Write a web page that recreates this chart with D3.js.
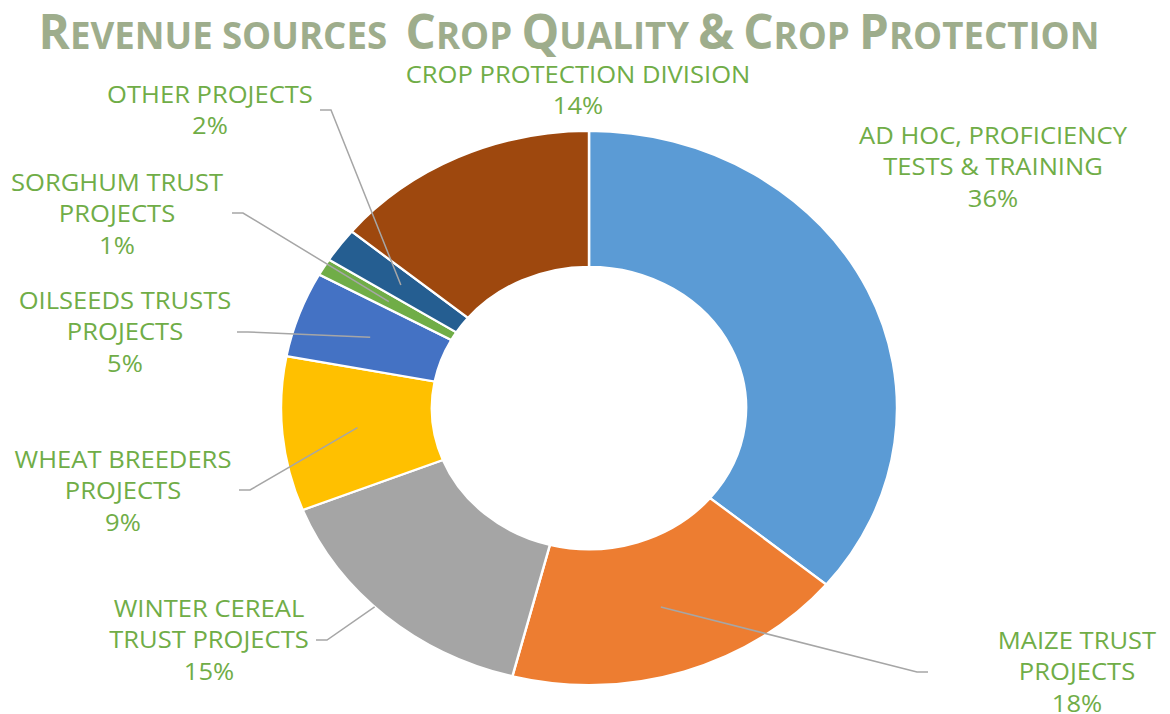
<!DOCTYPE html>
<html>
<head>
<meta charset="utf-8">
<script src="https://cdn.jsdelivr.net/npm/d3@7"></script>
<style>
  body { margin: 0; background: #fff; }
  svg { display: block; }
  .lbl { font-family: "Open Sans", sans-serif; fill: #70AD47; }
  .title { font-family: "Open Sans", sans-serif; font-weight: bold; fill: #9EAD8C; }
</style>
</head>
<body>
<script>
// slice data, clockwise from 12 o'clock
var categories = ["AD HOC, PROFICIENCY TESTS & TRAINING", "MAIZE TRUST PROJECTS",
    "WINTER CEREAL TRUST PROJECTS", "WHEAT BREEDERS PROJECTS", "OILSEEDS TRUSTS PROJECTS",
    "SORGHUM TRUST PROJECTS", "OTHER PROJECTS", "CROP PROTECTION DIVISION"];
var shares = [36, 18, 15, 9, 5, 1, 2, 14];
var colors = ["#5B9BD5", "#ED7D31", "#A5A5A5", "#FFC000", "#4472C4", "#70AD47", "#255E91", "#9E480E"];
// how each label wraps
var labelLines = [
    ["AD HOC, PROFICIENCY", "TESTS & TRAINING"],
    ["MAIZE TRUST", "PROJECTS"],
    ["WINTER CEREAL", "TRUST PROJECTS"],
    ["WHEAT BREEDERS", "PROJECTS"],
    ["OILSEEDS TRUSTS", "PROJECTS"],
    ["SORGHUM TRUST", "PROJECTS"],
    ["OTHER PROJECTS"],
    ["CROP PROTECTION DIVISION"]
];

// label layout (hand placed, as in the original)
var labelPos = [[993, 136], [1077, 641], [209, 609], [123, 460], [125, 301], [117, 183], [210, 95], [578, 75]];
var leaderStart = [null, [928, 672], [316, 640], [239, 490], [237, 332], [232, 213], [320, 110], null];
var leaderClip = [false, false, true, false, false, false, false, false];

window.onload = function(){
    var w = 1170, h = 714;
    var cx = 589, cy = 408, R = 277, sx = 1.112;
    var lineH = 31.5;

    var svg = d3.select("body").append("svg")
        .attr("width", w)
        .attr("height", h);

    // title in small caps
    var title = svg.append("text")
        .attr("class", "title")
        .attr("text-anchor", "middle")
        .attr("transform", "translate(569,49) scale(0.99,1)");
    var words = ["Revenue", "sources", "", "Crop", "Quality", "&", "Crop", "Protection"];
    words.forEach(function(word, i){
        if (i > 0) title.append("tspan").style("font-size", "36px").text("\u00a0");
        if (!word) return;
        var first = word.charAt(0), rest = word.slice(1);
        var bigFirst = first !== first.toLowerCase() || first === "&";
        title.append("tspan")
            .style("font-size", bigFirst ? "48px" : "37px")
            .text(first.toUpperCase());
        if (rest) title.append("tspan").style("font-size", "37px").text(rest.toUpperCase());
    });

    var pie = d3.pie().sort(null).value(function(d){ return d; });
    var arcs = pie(shares);
    var arc = d3.arc().innerRadius(R * 0.51).outerRadius(R);

    var donut = svg.append("g")
        .attr("transform", "translate(" + cx + "," + cy + ") scale(" + sx + ",1)");

    donut.selectAll("path")
        .data(arcs)
        .enter()
        .append("path")
        .attr("d", arc)
        .style("fill", function(d, i){ return colors[i]; })
        .style("stroke", "#fff")
        .style("stroke-width", 2.2);

    // leader lines
    function toScreen(p){ return [cx + sx * p[0], cy + p[1]]; }
    arcs.forEach(function(d, i){
        var s = leaderStart[i];
        if (!s) return;
        var tip = toScreen(arc.centroid(d));
        var dir = tip[0] > s[0] ? 1 : -1;
        var elbow = [s[0] + dir * 11, s[1]];
        if (leaderClip[i]) {
            // stop the line at the outer edge of the ring
            var lo = 0, hi = 1;
            for (var k = 0; k < 40; k++) {
                var t = (lo + hi) / 2;
                var px = elbow[0] + (tip[0] - elbow[0]) * t, py = elbow[1] + (tip[1] - elbow[1]) * t;
                var r = Math.sqrt(Math.pow((px - cx) / sx, 2) + Math.pow(py - cy, 2));
                if (r > R) lo = t; else hi = t;
            }
            tip = [elbow[0] + (tip[0] - elbow[0]) * hi, elbow[1] + (tip[1] - elbow[1]) * hi];
        }
        svg.append("path")
            .attr("d", d3.line()([s, elbow, tip]))
            .style("fill", "none")
            .style("stroke", "#A6A6A6")
            .style("stroke-width", 1.5);
    });

    // data labels
    var total = d3.sum(shares);
    arcs.forEach(function(d, i){
        var lines = labelLines[i].concat([Math.round(d.value / total * 100) + "%"]);
        var t = svg.append("text")
            .attr("class", "lbl")
            .attr("text-anchor", "middle")
            .attr("transform", "translate(" + labelPos[i][0] + "," + (labelPos[i][1] + 8) + ") scale(" + sx + ",1)")
            .style("font-size", "23px");
        lines.forEach(function(line, j){
            t.append("tspan")
                .attr("x", 0)
                .attr("y", j * lineH)
                .text(line);
        });
    });
};
</script>
</body>
</html>
